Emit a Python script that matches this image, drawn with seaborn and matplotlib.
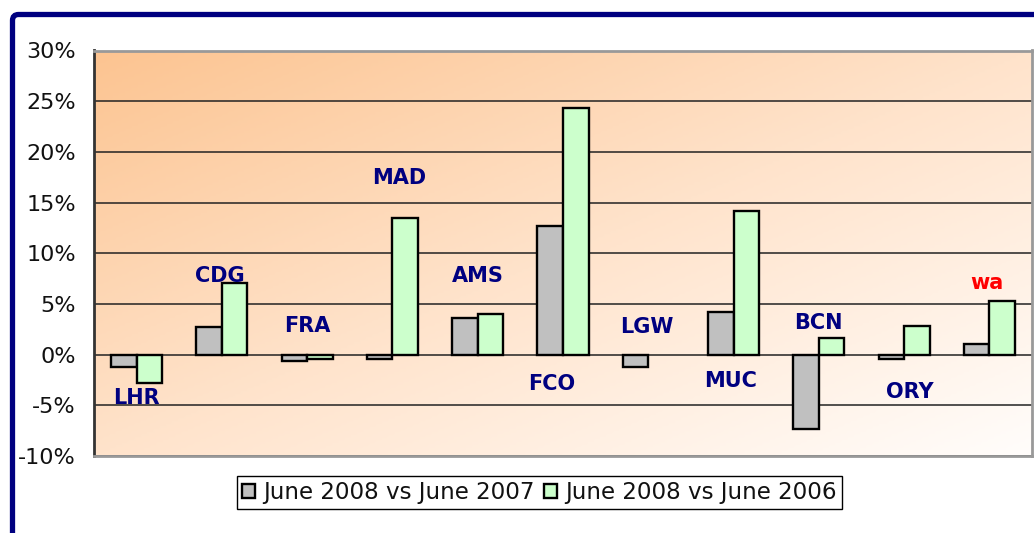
import numpy as np
import pandas as pd
import matplotlib
matplotlib.use('Agg')
import matplotlib.pyplot as plt
from matplotlib.patches import FancyBboxPatch
from matplotlib.transforms import IdentityTransform
from matplotlib.colors import LinearSegmentedColormap
import seaborn as sns

# data (percent change), LGW has no 2006 value
airports = ['LHR', 'CDG', 'FRA', 'MAD', 'AMS', 'FCO', 'LGW', 'MUC', 'BCN', 'ORY', 'wa']
vs_2007 = [-1.2, 2.7, -0.6, -0.4, 3.6, 12.7, -1.2, 4.2, -7.3, -0.4, 1.0]
vs_2006 = [-2.8, 7.1, -0.4, 13.5, 4.0, 24.3, np.nan, 14.2, 1.6, 2.8, 5.3]
series = ['June 2008 vs June 2007', 'June 2008 vs June 2006']

# where the airport names sit (y in %)
label_y = [-4.3, 7.8, 2.8, 17.4, 7.8, -2.9, 2.7, -2.6, 3.1, -3.7, 7.1]
label_dx = [0.0, -0.02, 0.0, 0.08, 0.0, -0.13, -0.02, -0.03, 0.0, 0.07, -0.03]
label_col = ['#000080'] * 10 + ['#FF0000']

df = pd.DataFrame({
    'airport': airports * 2,
    'change': vs_2007 + vs_2006,
    'series': [series[0]] * len(airports) + [series[1]] * len(airports),
})

sns.set_style('white')
plt.rcParams['font.family'] = ['DejaVu Sans']

fig = plt.figure(figsize=(10.34, 5.33), dpi=100)
ax = fig.add_axes([94 / 1034, 1 - 456 / 533, (1032 - 94) / 1034, (456 - 50.5) / 533])

# gradient background for the plot area
xx, yy = np.meshgrid(np.linspace(0, 1, 300), np.linspace(0, 1, 150))
t = 0.5 * xx + 0.5 * yy
cmap = LinearSegmentedColormap.from_list('peach', ['#FCC491', '#FFE3CB', '#FFFDFB'])
ax.imshow(t, cmap=cmap, extent=[0, 1, 0, 1], transform=ax.transAxes,
          aspect='auto', zorder=0, origin='upper')

sns.barplot(data=df, x='airport', y='change', hue='series', hue_order=series,
            palette=['#C0C0C0', '#CCFFCC'], width=0.6, edgecolor='black',
            linewidth=1.7, saturation=1, ax=ax, zorder=2)

ax.set_ylim(-10, 30)
ax.set_xlim(-0.5, len(airports) - 0.5)
ax.set_yticks(range(-10, 31, 5))
ax.set_yticklabels([f'{v}%' for v in range(-10, 31, 5)], fontsize=16, color='#111111')
ax.tick_params(axis='y', length=4.7, width=1.2, color='#333333', pad=8.4)
ax.tick_params(axis='x', bottom=False, labelbottom=False)
ax.set_xlabel('')
ax.set_ylabel('')

for y in range(-10, 31, 5):
    ax.axhline(y, color='#222222', linewidth=1.1, zorder=1)

ax.spines['left'].set_color('#333333')
ax.spines['left'].set_linewidth(2)
for s in ['top', 'right', 'bottom']:
    ax.spines[s].set_color('#999999')
    ax.spines[s].set_linewidth(2)

for i, name in enumerate(airports):
    ax.text(i + label_dx[i], label_y[i], name, ha='center', va='center',
            fontsize=15, fontweight='bold', color=label_col[i], zorder=5)

handles, labels = ax.get_legend_handles_labels()
leg = ax.legend(handles, labels, loc='center', bbox_to_anchor=(539.5 / 1034, 1 - 492.5 / 533),
                bbox_transform=fig.transFigure, ncol=2, fontsize=16.6, frameon=True,
                fancybox=False, edgecolor='black', framealpha=1, handlelength=0.58,
                handleheight=0.58, handletextpad=0.35, columnspacing=0.4,
                borderpad=0.22, borderaxespad=0)
leg.get_frame().set_linewidth(1.0)
for text in leg.get_texts():
    text.set_color('#111111')
for h in leg.legend_handles:
    h.set_edgecolor('black')
    h.set_linewidth(1.7)

# dark blue frame round the whole chart
frame = FancyBboxPatch((12.5, -40), 1200, 533 - 14.5 + 40,
                       boxstyle='round,pad=0,rounding_size=6',
                       transform=IdentityTransform(), facecolor='none',
                       edgecolor='#000080', linewidth=3.8, zorder=10)
fig.add_artist(frame)

fig.savefig('out.png', dpi=100)
